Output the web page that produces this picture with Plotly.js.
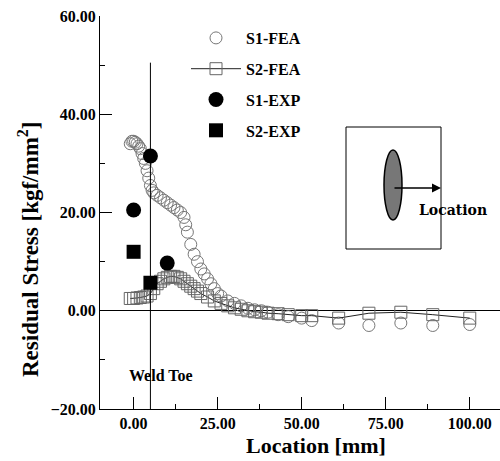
<!DOCTYPE html>
<html>
<head>
<meta charset="utf-8">
<script src="https://cdn.plot.ly/plotly-3.0.1.min.js"></script>
<style>html,body{margin:0;padding:0;background:#fff;}#chart{width:500px;height:461px;}</style>
</head>
<body>
<div id="chart"></div>
<script>
// ---- data ----
const s1FeaX = [-1, -0.5, 0, 0.5, 1, 1.5, 2, 2.5, 3, 3.5, 4, 4.5, 5, 5.5, 6, 7, 8, 9, 10, 11, 12, 13, 14, 15, 15.5, 16, 17, 18, 19, 20, 21, 22, 23, 24, 25, 26, 28, 30, 32, 34, 36, 38, 40, 43, 46, 50, 53, 61, 70, 79.5, 89, 100];
const s1FeaY = [34, 34.5, 34.5, 34.3, 34, 33.5, 33, 32, 31, 30, 28.5, 27, 25.5, 24.5, 24, 23.5, 23, 22.5, 22, 21.5, 21, 20.5, 20, 19, 17.5, 16, 13.5, 11.5, 10, 8.5, 7.5, 6.5, 5.5, 4.5, 3.5, 3, 2, 1.5, 1, 0.5, 0.2, 0, -0.3, -0.8, -1.2, -1.5, -2, -2.5, -3, -2.5, -3, -2.8];
const s2FeaX = [-1, 0, 1, 2, 3, 4, 5, 6, 7, 8, 9, 10, 11, 12, 13, 14, 15, 16, 17, 18, 19, 20, 22, 24, 26, 28, 30, 32, 34, 36, 38, 40, 43, 46, 50, 53, 61, 70, 79.5, 89, 100];
const s2FeaY = [2.5, 2.5, 2.6, 2.7, 2.8, 3, 3.5, 4.5, 5.5, 6, 6.5, 6.8, 7, 7, 6.8, 6.5, 6, 5.5, 5, 4.5, 4, 3.5, 2.8, 2, 1.5, 1, 0.6, 0.3, 0, -0.2, -0.3, -0.5, -0.6, -0.8, -1, -1, -1.5, -0.5, -0.3, -0.8, -1.5];
const s1ExpX = [0, 5, 10];
const s1ExpY = [20.5, 31.5, 9.7];
const s2ExpX = [0, 5];
const s2ExpY = [12, 5.7];
const xTicks = [0, 25, 50, 75, 100];
const yTicks = [-20, 0, 20, 40, 60];
const weldToeX = 5;
const xTitle = 'Location [mm]';
const yTitle = 'Residual Stress [kgf/mm<sup>2</sup>]';

const serif = 'Liberation Serif';
const traces = [
  {x: s1FeaX, y: s1FeaY, name: 'S1-FEA', mode: 'markers', legendgroup: 'a',
   marker: {symbol: 'circle-open', size: 12, color: '#777', line: {width: 1, color: '#777'}}},
  {x: s2FeaX, y: s2FeaY, name: 'S2-FEA', mode: 'lines+markers', legendgroup: 'b',
   line: {color: '#222', width: 1},
   marker: {symbol: 'square-open', size: 12, color: '#666', line: {width: 1, color: '#666'}}},
  {x: s1ExpX, y: s1ExpY, name: 'S1-EXP', mode: 'markers', legendgroup: 'c',
   marker: {symbol: 'circle', size: 15, color: '#000'}},
  {x: s2ExpX, y: s2ExpY, name: 'S2-EXP', mode: 'markers', legendgroup: 'd',
   marker: {symbol: 'square', size: 14, color: '#000'}}
];

const px = (p) => (p - 100) / 400;
const py = (p) => (409 - p) / 393;

const layout = {
  width: 500, height: 461,
  margin: {l: 100, r: 0, t: 16, b: 52},
  paper_bgcolor: '#fff', plot_bgcolor: '#fff',
  showlegend: true,
  legend: {x: px(186), y: py(21), xanchor: 'left', yanchor: 'top', bgcolor: 'rgba(0,0,0,0)',
    font: {family: serif, size: 16, color: '#000', weight: 'bold'},
    itemwidth: 50, tracegroupgap: 7},
  xaxis: {range: [-10, 109], tickvals: xTicks, tickformat: '.2f', showgrid: false, zeroline: false,
    showline: true, linecolor: '#000', linewidth: 1, ticks: 'inside', ticklen: 12, tickcolor: '#000',
    minor: {dtick: 12.5, tick0: 0, ticks: 'inside', ticklen: 5, tickcolor: '#000', showgrid: false},
    tickfont: {family: serif, size: 16, color: '#000', weight: 'bold'}},
  yaxis: {range: [-20, 60], tickvals: yTicks, tickformat: '.2f', showgrid: false,
    zeroline: true, zerolinecolor: '#000', zerolinewidth: 1,
    showline: true, linecolor: '#000', linewidth: 1, ticks: 'inside', ticklen: 12, tickcolor: '#000',
    minor: {dtick: 10, tick0: 0, ticks: 'inside', ticklen: 5, tickcolor: '#000', showgrid: false},
    tickfont: {family: serif, size: 16, color: '#000', weight: 'bold'}},
  shapes: [
    {type: 'line', xref: 'x', yref: 'y', x0: weldToeX, x1: weldToeX, y0: -20, y1: 50.5, line: {color: '#000', width: 1}},
    {type: 'rect', xref: 'paper', yref: 'paper', x0: px(346), x1: px(441), y0: py(249), y1: py(127), line: {color: '#000', width: 1}},
    {type: 'circle', xref: 'paper', yref: 'paper', x0: px(384), x1: px(402), y0: py(220), y1: py(150), fillcolor: '#777', line: {color: '#000', width: 1.5}}
  ],
  annotations: [
    {x: px(316), y: py(446), xref: 'paper', yref: 'paper', xanchor: 'center', yanchor: 'middle', text: xTitle, showarrow: false,
     font: {family: serif, size: 22, color: '#000', weight: 'bold'}},
    {x: px(28), y: py(249), xref: 'paper', yref: 'paper', xanchor: 'center', yanchor: 'middle', textangle: -90, text: yTitle, showarrow: false,
     font: {family: serif, size: 23, color: '#000', weight: 'bold'}},
    {x: px(441), y: py(188), xref: 'paper', yref: 'paper', ax: -48, ay: 0, text: '', showarrow: true, arrowhead: 2, arrowsize: 1.2, arrowwidth: 1.5, arrowcolor: '#000'},
    {x: px(453), y: py(210), xref: 'paper', yref: 'paper', xanchor: 'center', yanchor: 'middle', text: 'Location', showarrow: false, font: {family: 'DejaVu Serif', size: 14, color: '#000', weight: 'bold'}},
    {x: 8, y: -13.2, xref: 'x', yref: 'y', xanchor: 'center', text: 'Weld Toe', showarrow: false, font: {family: serif, size: 16, color: '#000', weight: 'bold'}}
  ]
};

Plotly.newPlot('chart', traces, layout, {displayModeBar: false, staticPlot: true});
</script>
</body>
</html>
